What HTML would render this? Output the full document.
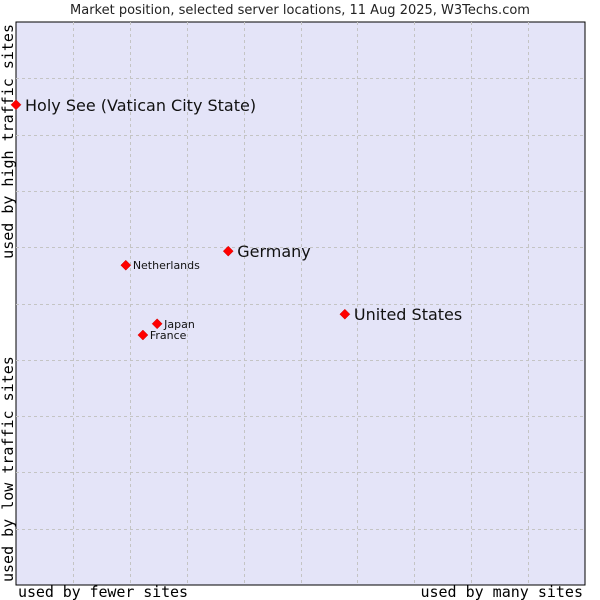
<!DOCTYPE html>
<html><head><meta charset="utf-8"><style>
body{margin:0;background:#fff;}
svg{display:block;}
</style></head><body>
<svg id="chart" width="600" height="600" xmlns="http://www.w3.org/2000/svg">
<text x="300" y="14" text-anchor="middle" font-family="DejaVu Sans, sans-serif" font-size="13" fill="#222">Market position, selected server locations, 11 Aug 2025, W3Techs.com</text>
<rect x="16" y="22" width="569" height="563" fill="#e4e4f8" stroke="#000" stroke-width="1"/>
<g id="grid"></g>
<g id="points"></g>
<text x="18" y="597" textLength="170" font-family="DejaVu Sans Mono, monospace" font-size="15" fill="#000">used by fewer sites</text>
<text x="583" y="597" text-anchor="end" font-family="DejaVu Sans Mono, monospace" font-size="15" fill="#000">used by many sites</text>
<text transform="translate(13,24) rotate(-90)" text-anchor="end" font-family="DejaVu Sans Mono, monospace" font-size="15" fill="#000">used by high traffic sites</text>
<text transform="translate(13,582) rotate(-90)" font-family="DejaVu Sans Mono, monospace" font-size="15" fill="#000">used by low traffic sites</text>
</svg>
<script>
const countries = ["Holy See (Vatican City State)","Germany","Netherlands","United States","Japan","France"];
const xValues = [0, 37.3, 19.3, 57.8, 24.8, 22.3];
const yValues = [85.3, 59.3, 56.8, 48.1, 46.4, 44.4];
const labelSizes = ["big","big","small","big","small","small"];
const L=16,T=22,W=569,H=563;
const sx=v=>L+v/100*W, sy=v=>T+H-v/100*H;
const NS="http://www.w3.org/2000/svg";
const grid=document.getElementById('grid');
for(let i=1;i<10;i++){
  const v=document.createElementNS(NS,'line');
  
  
  const x=Math.round(sx(i*10))+0.5;
  v.setAttribute('x1',x);v.setAttribute('x2',x);v.setAttribute('y1',T);v.setAttribute('y2',T+H);
  v.setAttribute('stroke','#c4c4c4');v.setAttribute('stroke-dasharray','3,3');
  grid.appendChild(v);
  const h=document.createElementNS(NS,'line');
  
  
  const y=Math.round(sy(i*10))+0.5;
  h.setAttribute('y1',y);h.setAttribute('y2',y);h.setAttribute('x1',L);h.setAttribute('x2',L+W);
  h.setAttribute('stroke','#c4c4c4');h.setAttribute('stroke-dasharray','3,3');
  grid.appendChild(h);
}
const pts=document.getElementById('points');
countries.forEach((c,i)=>{
  const x=sx(xValues[i]),y=sy(yValues[i]);
  const p=document.createElementNS(NS,'path');
  
  
  p.setAttribute('d',`M${x-5},${y} L${x},${y-5} L${x+5},${y} L${x},${y+5} Z`);
  p.setAttribute('fill','#ff0000');p.setAttribute('stroke','#c00');p.setAttribute('stroke-width','0.5');
  pts.appendChild(p);
  const t=document.createElementNS(NS,'text');
  
  
  const big=labelSizes[i]==='big';
  t.setAttribute('x',x+(big?9:7));t.setAttribute('y',y+(big?6:4));
  t.setAttribute('font-family','DejaVu Sans, sans-serif');
  t.setAttribute('font-size',big?16:11);t.setAttribute('fill','#111');
  t.textContent=c;
  pts.appendChild(t);
});
</script>
</body></html>
